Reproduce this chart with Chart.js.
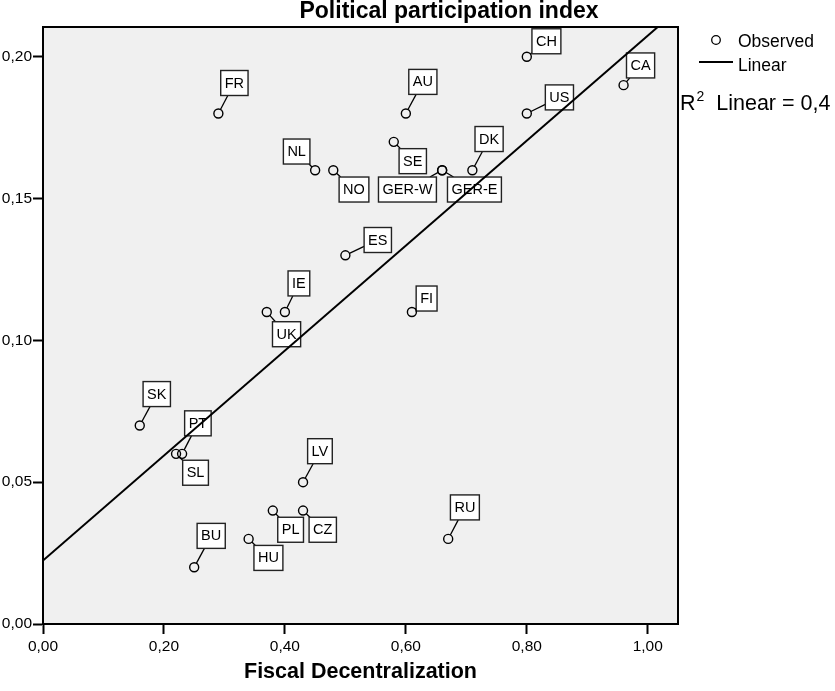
<!DOCTYPE html>
<html>
<head>
<meta charset="utf-8">
<script src="https://cdn.jsdelivr.net/npm/chart.js@4/dist/chart.umd.min.js"></script>
<style>
html,body{margin:0;padding:0;background:#fff;}
#wrap{width:835px;height:691px;position:relative;}
</style>
</head>
<body>
<div id="wrap"><canvas id="c" width="835" height="691"></canvas></div>
<script>
// ---- data ----
const countries = ["FR","AU","SE","NL","NO","ES","UK","IE","FI","CH","CA","US","DK","GER-W","GER-E","SK","PT","SL","LV","PL","CZ","HU","BU","RU"];
const fiscalDecentralization = [0.29,0.60,0.58,0.45,0.48,0.50,0.37,0.40,0.61,0.80,0.96,0.80,0.71,0.66,0.66,0.16,0.23,0.22,0.43,0.38,0.43,0.34,0.25,0.67];
const politicalParticipation = [0.18,0.18,0.17,0.16,0.16,0.13,0.11,0.11,0.11,0.20,0.19,0.18,0.16,0.16,0.16,0.07,0.06,0.06,0.05,0.04,0.04,0.03,0.02,0.03];
const fitLineX = [0, 1.05];
const fitLineY = [0.0224, 0.2167];
const xTickValues = [0, 0.2, 0.4, 0.6, 0.8, 1.0];
const yTickValues = [0, 0.05, 0.10, 0.15, 0.20];
const titleText = "Political participation index";
const xTitleText = "Fiscal Decentralization";
const rSquaredText = "0,4";

// ---- label placement (pixel offsets of label box centre from its point) ----
const labelOffsets = [
  [16,-30.5],[17,-31.6],[19,19.3],[-18.5,-18.7],[20.7,19.3],[32.4,-15.3],[19.8,22.2],[14,-28.6],[14.7,-13.5],
  [19.6,-15.5],[17,-19.7],[32.6,-16.1],[16.7,-31.2],[-34.7,19.3],[32.3,19.3],[17,-31.4],[15.8,-30.5],[19.5,18.9],
  [16.9,-31],[17.8,19.2],[19.7,19.2],[19.8,19],[17,-31.4],[16.7,-31.5]
];

const FONT = "'Liberation Sans', Arial, sans-serif";
const fmt = v => v.toFixed(2).replace('.', ',');

const points = countries.map((c,i)=>({x:fiscalDecentralization[i], y:politicalParticipation[i]}));
const fitPoints = fitLineX.map((x,i)=>({x:x, y:fitLineY[i]}));

const bgPlugin = {
  id:'bg',
  beforeDraw(chart){
    const {ctx, chartArea:a} = chart;
    ctx.save();
    ctx.fillStyle = '#f0f0f0';
    ctx.fillRect(a.left, a.top, a.right-a.left, a.bottom-a.top);
    ctx.restore();
  },
  beforeDatasetsDraw(chart){
    // labels with leader lines
    const {ctx} = chart;
    const meta = chart.getDatasetMeta(0);
    ctx.save();
    ctx.font = "14.5px " + FONT;
    ctx.textAlign = 'center';
    ctx.textBaseline = 'middle';
    meta.data.forEach((el,i)=>{
      const px = el.x, py = el.y;
      const [ox,oy] = labelOffsets[i];
      const cx = px+ox, cy = py+oy;
      const tw = ctx.measureText(countries[i]).width;
      const hw = tw/2 + 4, hh = 12.5;
      // leader
      const len = Math.hypot(ox,oy);
      const ux = ox/len, uy = oy/len;
      const t = Math.min(hw/Math.abs(ox||1e-9), hh/Math.abs(oy||1e-9));
      const ex = cx - ox*t, ey = cy - oy*t;
      const sx = px + ux*4.5, sy = py + uy*4.5;
      if ((ex-sx)*ux + (ey-sy)*uy > 0) {
        ctx.strokeStyle = '#000';
        ctx.lineWidth = 1.3;
        ctx.beginPath(); ctx.moveTo(sx,sy); ctx.lineTo(ex,ey); ctx.stroke();
      }
      ctx.fillStyle = '#fff';
      ctx.fillRect(cx-hw, cy-hh, hw*2, hh*2);
      ctx.strokeStyle = '#222';
      ctx.lineWidth = 1.4;
      ctx.strokeRect(cx-hw, cy-hh, hw*2, hh*2);
      ctx.fillStyle = '#000';
      ctx.fillText(countries[i], cx, cy+0.5);
    });
    ctx.restore();
  },
  afterDraw(chart){
    const {ctx, chartArea:a} = chart;
    ctx.save();
    ctx.strokeStyle = '#000';
    ctx.lineWidth = 2;
    ctx.beginPath();
    ctx.moveTo(a.left, a.top); ctx.lineTo(a.right, a.top); ctx.lineTo(a.right, a.bottom);
    ctx.stroke();
    // titles
    ctx.fillStyle = '#000';
    ctx.textAlign = 'center';
    ctx.textBaseline = 'middle';
    ctx.font = "bold 23px " + FONT;
    ctx.fillText(titleText, 449, 12);
    ctx.font = "bold 21.5px " + FONT;
    ctx.fillText(xTitleText, (a.left+a.right)/2, 672);
    // legend
    ctx.lineWidth = 1.3;
    ctx.beginPath(); ctx.arc(716, 40, 4.3, 0, Math.PI*2); ctx.stroke();
    ctx.lineWidth = 2;
    ctx.beginPath(); ctx.moveTo(699, 62); ctx.lineTo(733, 62); ctx.stroke();
    ctx.textAlign = 'left';
    ctx.font = "17.5px " + FONT;
    ctx.fillText("Observed", 738, 42);
    ctx.fillText("Linear", 738, 66);
    // R squared
    ctx.textBaseline = 'alphabetic';
    ctx.font = "21.5px " + FONT;
    ctx.fillText("R", 680, 110);
    const rw = ctx.measureText("R").width;
    ctx.font = "14px " + FONT;
    ctx.fillText("2", 680+rw+1, 101);
    const sw = ctx.measureText("2").width;
    ctx.font = "21.5px " + FONT;
    ctx.fillText("  Linear = " + rSquaredText, 680+rw+1+sw, 110);
    ctx.restore();
  }
};

new Chart(document.getElementById('c'), {
  type:'scatter',
  data:{
    datasets:[
      {
        label:'Observed',
        data:points,
        pointStyle:'circle',
        pointRadius:4.5,
        pointHoverRadius:4.5,
        pointBorderWidth:1.4,
        pointBorderColor:'#000',
        pointBackgroundColor:'rgba(0,0,0,0)',
        order:1
      },
      {
        type:'line',
        label:'Linear',
        data:fitPoints,
        borderColor:'#000',
        borderWidth:2,
        pointRadius:0,
        fill:false,
        order:0
      }
    ]
  },
  plugins:[bgPlugin],
  options:{
    responsive:false,
    animation:false,
    events:[],
    layout:{padding:{left:0, top:27, right:157, bottom:0}},
    plugins:{legend:{display:false}, tooltip:{enabled:false}, title:{display:false}},
    scales:{
      x:{
        type:'linear', min:0, max:1.05,
        afterFit(s){ s.height = 67; },
        afterBuildTicks(s){ s.ticks = xTickValues.map(v=>({value:v})); },
        ticks:{callback:v=>fmt(v), color:'#000', font:{family:FONT, size:15.5}, padding:3, maxRotation:0, autoSkip:false},
        grid:{drawOnChartArea:false, drawTicks:true, tickLength:10, tickWidth:2, tickColor:'#000', color:'#000'},
        border:{display:true, color:'#000', width:2}
      },
      y:{
        type:'linear', min:0, max:0.2105,
        afterFit(s){ s.width = 43; },
        afterBuildTicks(s){ s.ticks = yTickValues.map(v=>({value:v})); },
        ticks:{callback:v=>fmt(v), color:'#000', font:{family:FONT, size:15.5}, padding:1, autoSkip:false},
        grid:{drawOnChartArea:false, drawTicks:true, tickLength:10, tickWidth:2, tickColor:'#000', color:'#000'},
        border:{display:true, color:'#000', width:2}
      }
    }
  }
});
</script>
</body>
</html>
